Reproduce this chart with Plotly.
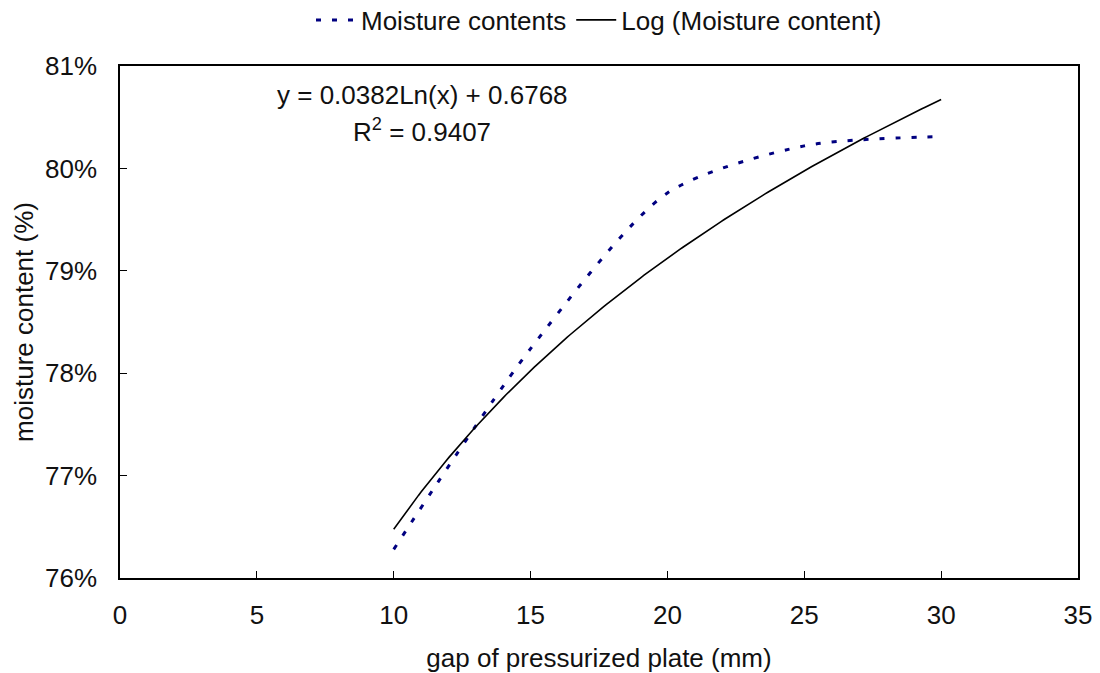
import numpy as np
import plotly.graph_objects as go

# Measured moisture content at each plate gap
gap_mm = [10, 15, 20, 25, 30]
moisture = [0.7628, 0.7824, 0.7976, 0.8022, 0.8031]

# Logarithmic trend line coefficients: y = a*ln(x) + b
trend_a = 0.0382
trend_b = 0.6768
trend_r2 = 0.9407

x_ticks = [0, 5, 10, 15, 20, 25, 30, 35]

FONT = "Liberation Sans, Arial, sans-serif"
TEXT = "#111111"
FS = 26

trend_x = np.linspace(min(gap_mm), max(gap_mm), 200)
trend_y = trend_a * np.log(trend_x) + trend_b

fig = go.Figure()
fig.add_trace(go.Scatter(
    x=gap_mm, y=moisture, mode="lines", name="Moisture contents",
    line=dict(color="#000080", width=3, dash="5px,11px", shape="spline", smoothing=0.75),
))
fig.add_trace(go.Scatter(
    x=trend_x, y=trend_y, mode="lines", name="Log (Moisture content)",
    line=dict(color="black", width=1.6),
))

fig.add_annotation(
    x=11.05, y=0.80717, xref="x", yref="y", showarrow=False,
    text=f"y = {trend_a:.4f}Ln(x) + {trend_b:.4f}",
    font=dict(family=FONT, size=FS, color=TEXT),
)
fig.add_annotation(
    x=11.05, y=0.80375, xref="x", yref="y", showarrow=False,
    text=f"R<sup>2</sup> = {trend_r2:.4f}",
    font=dict(family=FONT, size=FS, color=TEXT),
)

axis_common = dict(
    showline=True, linecolor="black", linewidth=1.5, mirror=True,
    ticks="inside", ticklen=7, tickcolor="black", tickwidth=1,
    showgrid=False, zeroline=False, automargin=False,
    tickfont=dict(family=FONT, size=FS, color=TEXT),
)

fig.update_xaxes(
    range=[0, 35], tickvals=x_ticks, ticklabelstandoff=13,
    title=dict(text="gap of pressurized plate (mm)", font=dict(family=FONT, size=FS, color=TEXT), standoff=22),
    **axis_common,
)
fig.update_yaxes(
    range=[0.76, 0.81], dtick=0.01, tickformat=".0%", ticklabelstandoff=16,
    title=dict(text="moisture content (%)", font=dict(family=FONT, size=FS, color=TEXT), standoff=4),
    **axis_common,
)

fig.update_layout(
    width=1100, height=673,
    margin=dict(l=120, r=22, t=66, b=95, autoexpand=False),
    paper_bgcolor="white", plot_bgcolor="white",
    font=dict(family=FONT, size=FS, color=TEXT),
    showlegend=True,
    legend=dict(
        orientation="h", x=0.5, xanchor="center", xref="paper",
        y=1 - 20 / 673, yanchor="middle", yref="container",
        font=dict(family=FONT, size=FS, color=TEXT),
        itemwidth=40, tracegroupgap=0,
        bgcolor="rgba(0,0,0,0)",
    ),
)

fig.write_html("out.html")
